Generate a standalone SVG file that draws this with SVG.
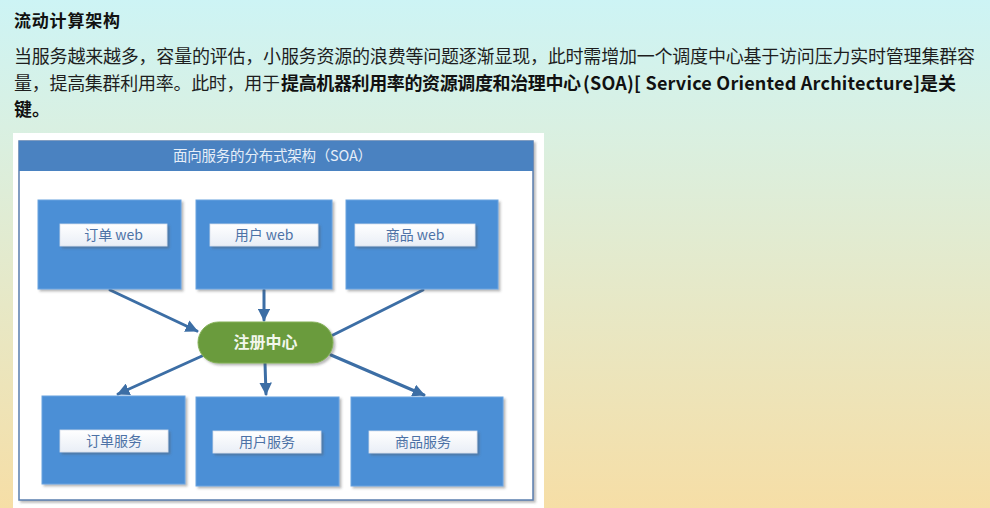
<svg xmlns="http://www.w3.org/2000/svg" width="990" height="508" viewBox="0 0 990 508">
  <defs>
    <linearGradient id="bg" x1="0" y1="0" x2="0" y2="1">
      <stop offset="0" stop-color="#cdf4f5"/>
      <stop offset="0.25" stop-color="#d9f0e2"/>
      <stop offset="0.6" stop-color="#e7e8c6"/>
      <stop offset="1" stop-color="#f6dea6"/>
    </linearGradient>
    <linearGradient id="labelFill" x1="0" y1="0" x2="0" y2="1">
      <stop offset="0" stop-color="#ffffff"/>
      <stop offset="1" stop-color="#e9eef6"/>
    </linearGradient>
    <filter id="shadow" x="-10%" y="-10%" width="125%" height="130%">
      <feDropShadow dx="2" dy="2" stdDeviation="1.2" flood-color="#555" flood-opacity="0.4"/>
    </filter>
    <marker id="arrow" viewBox="0 0 10 10" refX="9" refY="5" markerWidth="4.2" markerHeight="4.2" orient="auto" markerUnits="strokeWidth">
      <path d="M0,0 L10,5 L0,10 z" fill="#3c6ea5"/>
    </marker>
    <style>
      .cjk { font-family: "Noto Sans CJK SC", "Microsoft YaHei", sans-serif; }
      .para { font-size: 18px; fill: #1e1e1e; }
      .b { font-weight: bold; fill: #111; }
      .box { fill: #4b8fd6; stroke: #6aa3e0; stroke-width: 1; filter: url(#shadow); }
      .label { fill: url(#labelFill); stroke: #d6dfeb; stroke-width: 0.8; filter: url(#shadow); }
      .ltext { font-size: 14px; fill: #4d72a6; text-anchor: middle; }
      .edge { stroke: #3c6ea5; stroke-width: 3; fill: none; stroke-linecap: round; }
    </style>
  </defs>

  <!-- page background -->
  <rect x="0" y="0" width="990" height="508" fill="url(#bg)"/>

  <!-- heading and paragraph -->
  <text class="cjk b" x="14" y="27" font-size="17" textLength="106" lengthAdjust="spacing">流动计算架构</text>
  <text class="cjk para" x="14" y="63" textLength="961" lengthAdjust="spacing">当服务越来越多，容量的评估，小服务资源的浪费等问题逐渐显现，此时需增加一个调度中心基于访问压力实时管理集群容</text>
  <text class="cjk para" x="14" y="90" textLength="266" lengthAdjust="spacing">量，提高集群利用率。此时，用于</text>
  <text class="cjk para b" x="281" y="90" textLength="300" lengthAdjust="spacing">提高机器利用率的资源调度和治理中心</text>
  <text class="cjk para b" x="583" y="90" textLength="337" lengthAdjust="spacing">(SOA)[ Service Oriented Architecture]</text>
  <text class="cjk para b" x="920" y="90">是关</text>
  <text class="cjk para b" x="14" y="116">键。</text>

  <!-- white panel with SOA frame -->
  <rect x="13" y="133" width="531" height="375" fill="#ffffff"/>
  <g id="frame">
    <rect x="19" y="141" width="514" height="359" fill="#ffffff" stroke="#5a7eae" stroke-width="1.5" filter="url(#shadow)"/>
    <rect x="19" y="141" width="514" height="30" fill="#4a82c1"/>
    <text class="cjk" x="173" y="161" font-size="14.5" fill="#e6eef8" textLength="199" lengthAdjust="spacing">面向服务的分布式架构（SOA）</text>
  </g>

  <!-- connectors -->
  <g id="connectors">
    <line class="edge" x1="110" y1="290" x2="197" y2="331" marker-end="url(#arrow)"/>
    <line class="edge" x1="264" y1="290" x2="264" y2="320" marker-end="url(#arrow)"/>
    <line class="edge" x1="423" y1="290" x2="333" y2="335"/>
    <line class="edge" x1="202" y1="356" x2="118" y2="394" marker-end="url(#arrow)"/>
    <line class="edge" x1="265" y1="363" x2="266" y2="394" marker-end="url(#arrow)"/>
    <line class="edge" x1="331" y1="355" x2="424" y2="395" marker-end="url(#arrow)"/>
  </g>

  <!-- web layer -->
  <g id="order-web">
    <rect class="box" x="38" y="200" width="143" height="89"/>
    <rect class="label" x="60" y="224" width="107" height="22"/>
    <text class="cjk ltext" x="113.5" y="240">订单 web</text>
  </g>
  <g id="user-web">
    <rect class="box" x="196" y="200" width="136" height="89"/>
    <rect class="label" x="210" y="224" width="108" height="22"/>
    <text class="cjk ltext" x="264" y="240">用户 web</text>
  </g>
  <g id="goods-web">
    <rect class="box" x="346" y="200" width="152" height="89"/>
    <rect class="label" x="355" y="224" width="120" height="22"/>
    <text class="cjk ltext" x="415" y="240">商品 web</text>
  </g>

  <!-- registry -->
  <g id="registry">
    <rect x="198" y="322" width="135" height="41" rx="20.5" fill="#6b9b3c" stroke="#83b157" stroke-width="1" filter="url(#shadow)"/>
    <text class="cjk" x="265.5" y="348" font-size="16" font-weight="bold" fill="#f2f7ec" text-anchor="middle">注册中心</text>
  </g>

  <!-- service layer -->
  <g id="order-service">
    <rect class="box" x="42" y="396" width="143" height="88"/>
    <rect class="label" x="60" y="430" width="108" height="22"/>
    <text class="cjk ltext" x="114" y="446">订单服务</text>
  </g>
  <g id="user-service">
    <rect class="box" x="196" y="397" width="143" height="89"/>
    <rect class="label" x="213" y="431" width="108" height="22"/>
    <text class="cjk ltext" x="267" y="447">用户服务</text>
  </g>
  <g id="goods-service">
    <rect class="box" x="351" y="397" width="152" height="89"/>
    <rect class="label" x="369" y="431" width="108" height="22"/>
    <text class="cjk ltext" x="423" y="447">商品服务</text>
  </g>
</svg>
